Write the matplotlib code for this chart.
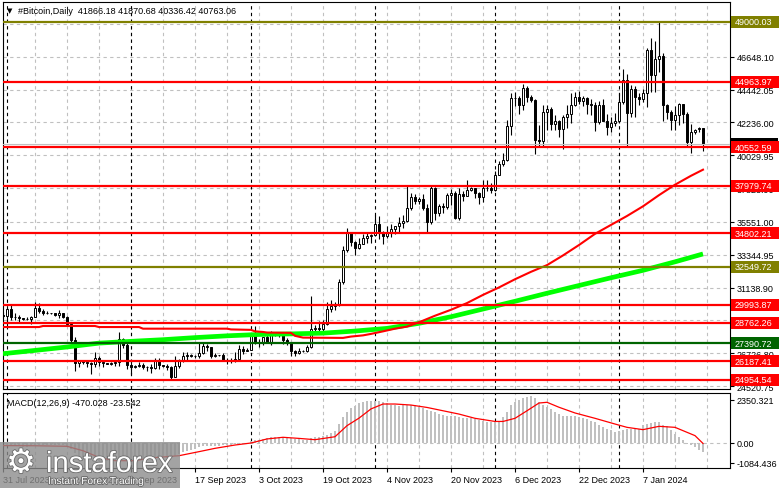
import matplotlib
matplotlib.use("Agg")
import matplotlib.pyplot as plt
from matplotlib.patches import Rectangle
import matplotlib.patheffects as pe

W, H = 781, 489
FONT = ['Liberation Sans', 'DejaVu Sans']

# daily candles, day 0 = 31 Jul 2023, last = 22 Jan 2024
opens = [29280, 29230, 29700, 29180, 29170, 29070, 29050, 29050, 29180, 29770,
         29570, 29430, 29400, 29420, 29280, 29410, 29170, 28720, 27650, 26100,
         26190, 26130, 26050, 26000, 26430, 26160, 26050, 26010, 26090, 26110,
         27720, 27300, 25940, 25800, 25870, 25970, 25810, 25780, 25750, 26240,
         25910, 25900, 25830, 25160, 25840, 26230, 26540, 26610, 26570, 26530,
         26760, 27210, 27130, 26570, 26580, 26580, 26250, 26300, 26220, 26370,
         27020, 26910, 26970, 27990, 27500, 27430, 27790, 27410, 27950, 27970,
         27940, 27590, 27390, 26880, 26760, 26860, 26860, 27160, 28360, 28420,
         28330, 28720, 29680, 29920, 29990, 31540, 33660, 34780, 34200, 33800,
         34090, 34490, 34620, 34680, 35380, 34780, 34620, 34900, 35050, 35250,
         35450, 35630, 36500, 37240, 36980, 37070, 36490, 35550, 37860, 36160,
         36600, 36580, 37390, 37480, 35810, 37420, 37290, 37720, 37800, 37480,
         37250, 37830, 37860, 37720, 38690, 39460, 39700, 42000, 43900, 43850,
         43390, 44570, 43950, 43720, 41080, 41000, 42940, 43150, 42160, 42300,
         41820, 42600, 42830, 43390, 43950, 43680, 43850, 43500, 43400, 42270,
         43390, 42300, 41930, 42200, 42300, 43600, 45060, 42870, 44500, 43950,
         43830, 44240, 47120, 45400, 46520, 46700, 43390, 42940, 42430, 42720,
         43450, 42830, 40930, 41600, 41780, 41866.18]
highs = [29530, 29740, 30000, 29400, 29300, 29110, 29170, 29230, 30180, 30100,
         29690, 29540, 29450, 29450, 29650, 29440, 29220, 28780, 27800, 26260,
         26290, 26250, 26130, 26800, 26550, 26260, 26090, 26170, 26200, 28140,
         27760, 27480, 26130, 25970, 26120, 26090, 25880, 26030, 26410, 26410,
         25940, 26000, 25880, 26530, 26370, 26810, 26830, 26680, 26620, 27410,
         27470, 27360, 27150, 26720, 26630, 26720, 26420, 26390, 26820, 27300,
         27230, 27090, 28050, 28580, 27670, 27830, 28120, 28250, 28030, 28090,
         27990, 27730, 27480, 26940, 27090, 26960, 27290, 30550, 28610, 28920,
         28990, 30200, 30290, 30170, 31700, 33900, 35160, 34900, 34300, 34470,
         34730, 34850, 34750, 36010, 35980, 34950, 35260, 35380, 35280, 35900,
         36000, 38000, 37500, 37410, 37220, 37400, 36740, 37960, 37930, 36780,
         36820, 37510, 37760, 37650, 37830, 37600, 38390, 37890, 37830, 37560,
         38370, 38400, 38140, 38960, 39660, 40180, 42400, 44240, 44270, 44040,
         44800, 44700, 44100, 43810, 42050, 43430, 43380, 43250, 42700, 42430,
         42740, 43400, 44240, 44290, 44370, 44020, 43940, 43800, 43610, 43680,
         43790, 42800, 42610, 42900, 44180, 45850, 45500, 44730, 44700, 44190,
         44480, 47260, 47930, 47700, 48970, 46900, 43450, 43080, 43320, 43560,
         43500, 42930, 42130, 41820, 41950, 41870.68]
lows = [29110, 28590, 28950, 28970, 28800, 28960, 28970, 28700, 29150, 29400,
        29320, 29350, 29360, 29250, 29100, 29100, 28700, 27400, 25550, 25800,
        26020, 25810, 25350, 25800, 25870, 25780, 25980, 25960, 25880, 25900,
        27050, 25700, 25330, 25720, 25800, 25640, 25570, 25380, 25650, 25650,
        25810, 25600, 24900, 25130, 25770, 26130, 26220, 26480, 26400, 26400,
        26690, 26850, 26380, 26490, 26520, 26200, 25990, 26090, 26110, 26340,
        26670, 26890, 26960, 27330, 27180, 27250, 27390, 27250, 27860, 27840,
        27330, 27300, 26560, 26560, 26690, 26800, 26820, 27110, 28110, 28190,
        28180, 28640, 29480, 29660, 29900, 31400, 33500, 33900, 33330, 33750,
        34070, 34110, 34110, 34600, 34400, 34100, 34500, 34540, 34760, 34900,
        35130, 35560, 36350, 36780, 36750, 36360, 34800, 35380, 35680, 35970,
        36180, 36440, 36710, 35760, 35660, 36960, 37260, 37600, 37170, 36750,
        36890, 37600, 37520, 37650, 38670, 39290, 39650, 41420, 43350, 42830,
        43080, 43600, 43590, 40080, 40680, 40680, 41700, 41700, 41720, 41260,
        40480, 41830, 42210, 43340, 43440, 43350, 42800, 42760, 41680, 42130,
        42320, 41420, 41560, 41990, 42190, 43500, 40590, 42630, 42630, 43400,
        43600, 43240, 44300, 44300, 45600, 42300, 42440, 41720, 41720, 42080,
        42200, 40680, 40190, 41430, 41600, 40336.42]
closes = [29230, 29700, 29180, 29170, 29070, 29050, 29050, 29180, 29770, 29570,
          29430, 29400, 29420, 29280, 29410, 29170, 28720, 27650, 26100, 26190,
          26130, 26050, 26000, 26430, 26160, 26050, 26010, 26090, 26110, 27720,
          27300, 25940, 25800, 25870, 25970, 25810, 25780, 25750, 26240, 25910,
          25900, 25830, 25160, 25840, 26230, 26540, 26610, 26570, 26530, 26760,
          27210, 27130, 26570, 26580, 26580, 26250, 26300, 26220, 26370, 27020,
          26910, 26970, 27990, 27500, 27430, 27790, 27410, 27950, 27970, 27940,
          27590, 27390, 26880, 26760, 26860, 26860, 27160, 28360, 28420, 28330,
          28720, 29680, 29920, 29990, 31540, 33660, 34780, 34200, 33800, 34090,
          34490, 34620, 34680, 35380, 34780, 34620, 34900, 35050, 35250, 35450,
          35630, 36500, 37240, 36980, 37070, 36490, 35550, 37860, 36160, 36600,
          36580, 37390, 37480, 35810, 37420, 37290, 37720, 37800, 37480, 37250,
          37830, 37860, 37720, 38690, 39460, 39700, 42000, 43900, 43850, 43390,
          44570, 43950, 43720, 41080, 41000, 42940, 43150, 42160, 42300, 41820,
          42600, 42830, 43390, 43950, 43680, 43850, 43500, 43400, 42270, 43390,
          42300, 41930, 42200, 42300, 43600, 45060, 42870, 44500, 43950, 43830,
          44240, 47120, 45400, 46520, 46700, 43390, 42940, 42430, 42720, 43450,
          42830, 40930, 41600, 41700, 41866, 40763.06]

# moving averages (day, value)
sma100_days = [0, 9, 10, 23, 24, 34, 35, 56, 57, 62, 63, 65, 66, 72, 73, 75, 85, 87, 90, 92,
               95, 98, 101, 104, 108, 112, 116, 120, 124, 128, 132, 136, 140, 144, 148,
               152, 156, 160, 164, 168, 172, 175]
sma100_vals = [28490, 28490, 28560, 28560, 28490, 28490, 28380, 28380, 28330, 28300,
               28200, 28160, 28120, 28100, 27900, 27780, 27760, 27850, 27930, 28030,
               28200, 28380, 28520, 28810, 29250, 29650, 30100, 30650, 31150, 31700,
               32200, 32650, 33300, 34000, 34750, 35350, 35950, 36600, 37350, 38050,
               38650, 39060]
sma200_days = [0, 8, 16, 24, 32, 40, 48, 56, 64, 72, 80, 88, 96, 104, 112, 120, 128, 136,
               144, 152, 160, 168, 175]
sma200_vals = [26700, 26920, 27150, 27410, 27530, 27640, 27780, 27900, 27990, 28030,
               28080, 28220, 28400, 28740, 29180, 29700, 30220, 30760, 31280, 31800,
               32300, 32870, 33400]

# MACD(12,26,9) main line, one bar per day
macd = [-180, -150, -160, -170, -180, -190, -190, -180, -130, -110,
        -100, -100, -95, -100, -95, -110, -150, -350, -560, -700,
        -800, -870, -930, -940, -960, -980, -990, -980, -950, -810,
        -770, -830, -880, -900, -910, -920, -910, -870, -840, -820,
        -810, -830, -780, -690, -580, -490, -410, -360, -300, -220,
        -180, -180, -170, -150, -150, -130, -120, -110, -60, -40,
        -30, 0, 120, 150, 170, 220, 270, 310, 340, 350,
        340, 310, 270, 220, 190, 170, 180, 250, 300, 320,
        360, 450, 560, 660, 1050, 1400, 1700, 1900, 2030, 2150,
        2220, 2260, 2280, 2300, 2290, 2230, 2150, 2080, 2040, 2010,
        2050, 2060, 2080, 2050, 1950, 1880, 1810, 1720, 1660, 1570,
        1500, 1480, 1470, 1460, 1400, 1380, 1360, 1330, 1300, 1250,
        1190, 1160, 1140, 1130, 1210, 1400, 1680, 2050, 2250, 2350,
        2450, 2510, 2530, 2450, 2250, 2080, 1960, 1850, 1700, 1560,
        1480, 1450, 1460, 1450, 1400, 1350, 1290, 1200, 1120, 1000,
        880, 780, 680, 620, 650, 720, 780, 770, 760, 760,
        960, 1040, 1080, 1120, 1160, 1000, 900, 720, 490, 300,
        150, -55, -120, -200, -400, -470]
signal_days = [0, 8, 16, 20, 24, 28, 33, 37, 44, 49, 53, 58, 62, 66, 70, 74, 78, 83, 86, 89,
               92, 95, 98, 102, 106, 110, 114, 118, 123, 125, 128, 131, 134, 136, 139, 143,
               148, 153, 156, 160, 164, 168, 173, 175]
signal_vals = [-140, -150, -180, -420, -780, -960, -960, -810, -690, -470, -290, -110, 0,
               220, 310, 250, 180, 340, 940, 1350, 1850, 2116, 2116, 2060, 1930, 1750,
               1570, 1340, 1170, 1170, 1340, 1750, 2170, 2210, 1940, 1630, 1340, 1030,
               850, 725, 905, 850, 400, -24]

level_prices = [49000.03, 44963.97, 40552.59, 37979.74, 34802.21, 32549.72,
                29993.87, 28762.26, 27390.72, 26187.41, 24954.54]
level_colors = ['#808000', '#ff0000', '#ff0000', '#ff0000', '#ff0000', '#808000',
                '#ff0000', '#ff0000', '#006400', '#ff0000', '#ff0000']
bid = 40763.06

price_ticks = [24520.75, 26726.80, 28932.85, 31138.90, 33344.95, 35551.00,
               37823.90, 40029.95, 42236.00, 44442.05, 46648.10, 48854.15]
macd_ticks = [-1084.436, 0.0, 2350.321]
macd_tick_labels = ['-1084.436', '0.00', '2350.321']

date_days = [0, 16, 32, 48, 64, 80, 96, 112, 128, 144, 160]
date_labels = ['31 Jul 2023', '16 Aug 2023', '1 Sep 2023', '17 Sep 2023', '3 Oct 2023',
               '19 Oct 2023', '4 Nov 2023', '20 Nov 2023', '6 Dec 2023', '22 Dec 2023',
               '7 Jan 2024']
month_starts = [1, 32, 62, 93, 123, 154]

fig = plt.figure(figsize=(W / 100, H / 100), dpi=100)
fig.patch.set_facecolor('white')
L, R = 3, 730
ax = fig.add_axes([L / W, 1 - 390 / H, (R - L) / W, 387 / H])
am = fig.add_axes([L / W, 1 - 469 / H, (R - L) / W, 75 / H])

for a in (ax, am):
    a.set_xlim(0, 181.75)
    for s in a.spines.values():
        s.set_linewidth(0.8)
        s.set_color('black')
    a.yaxis.tick_right()
    a.tick_params(axis='y', length=3, width=0.8, pad=2, labelsize=6.5, direction='out')
ax.set_ylim(24328, 50323)
am.set_ylim(-1357, 2714)

# grid
for d in range(0, 182, 8):
    for a in (ax, am):
        a.axvline(d, color='#c0c0c0', lw=0.8, ls=(0, (3, 3)), zorder=0.5)
for d in month_starts:
    for a in (ax, am):
        a.axvline(d, color='black', lw=0.8, ls=(0, (3, 3)), zorder=0.6)
for p in price_ticks:
    ax.axhline(p, color='#c0c0c0', lw=0.8, ls=(0, (3, 3)), zorder=0.5)
am.axhline(0, color='#c0c0c0', lw=0.8, ls=(0, (3, 3)), zorder=0.5)

# candles
days = list(range(len(closes)))
ax.vlines(days, lows, highs, color='black', lw=0.8, zorder=2)
bottoms = [min(o, c) for o, c in zip(opens, closes)]
heights = [abs(c - o) for o, c in zip(opens, closes)]
colors = ['white' if c >= o else 'black' for o, c in zip(opens, closes)]
ax.bar(days, heights, 0.7, bottoms, color=colors, edgecolor='black', linewidth=0.7, zorder=2.1)

# moving averages
ax.plot(sma200_days, sma200_vals, color='#00ff00', lw=3.4, solid_capstyle='butt', zorder=3)
ax.plot(sma100_days, sma100_vals, color='#ff0000', lw=1.5, zorder=3.1)

# levels
ax.axhline(bid, color='#c0c0c0', lw=0.8, zorder=3.5)
for p, c in zip(level_prices, level_colors):
    ax.axhline(p, color=c, lw=1.6, zorder=4)

ax.set_yticks(price_ticks)
ax.set_yticklabels([f'{p:.2f}' for p in price_ticks], family=FONT)
ax.tick_params(axis='x', bottom=False, labelbottom=False)

upx = (50323 - 24328) / 387.0
tr = ax.get_yaxis_transform()
box_h = 12 * upx
ax.add_patch(Rectangle((1.0, bid - box_h / 2), 48 / 727, box_h, transform=tr,
                       fc='black', ec='none', clip_on=False, zorder=5))
for p, c in zip(level_prices, level_colors):
    ax.add_patch(Rectangle((1.0 + 1 / 727, p - box_h / 2), 48 / 727, box_h, transform=tr,
                           fc=c, ec='none', clip_on=False, zorder=5.1))
    ax.text(1.0 + 5 / 727, p, f'{p:.2f}', transform=tr, color='white', fontsize=6.5,
            family=FONT, va='center', ha='left', zorder=5.2, clip_on=False)

# MACD
am.bar(days, macd, 0.7, color='#c0c0c0', zorder=2)
am.plot(signal_days, signal_vals, color='#ff0000', lw=0.9, zorder=3)
am.set_yticks(macd_ticks)
am.set_yticklabels(macd_tick_labels, family=FONT)
am.set_xticks(date_days)
am.set_xticklabels(date_labels, family=FONT, fontsize=6.5, ha='left')
am.tick_params(axis='x', length=3, width=0.8, pad=2)

fig.text(7 / W, 1 - 11 / H, '\u25bc', fontsize=5, family=['DejaVu Sans'], va='center')
fig.text(18 / W, 1 - 11 / H, '#Bitcoin,Daily  41866.18 41870.68 40336.42 40763.06',
         fontsize=6.5, family=FONT, va='center')
fig.text(7 / W, 1 - 404 / H, 'MACD(12,26,9) -470.028 -23.542', fontsize=6.5,
         family=FONT, va='center')

# watermark
fig.add_artist(Rectangle((0, 0), 180 / W, 46 / H, transform=fig.transFigure,
                         fc='#8c8c8c', ec='none', alpha=0.8, zorder=10))
halo = [pe.withStroke(linewidth=1.2, foreground='#6a6a6a')]
fig.text(6 / W, 1 - 464 / H, '\u2699', fontsize=24, color='white', family=['DejaVu Sans'],
         va='center', zorder=11, path_effects=halo)
fig.text(46 / W, 1 - 473 / H, 'instaforex', fontsize=21, color='white', family=FONT,
         va='baseline', zorder=11, path_effects=halo)
fig.text(48 / W, 1 - 485 / H, 'Instant Forex Trading', fontsize=7.3, color='white',
         family=FONT, va='baseline', zorder=11, path_effects=halo)

fig.savefig('out.png', dpi=100)
